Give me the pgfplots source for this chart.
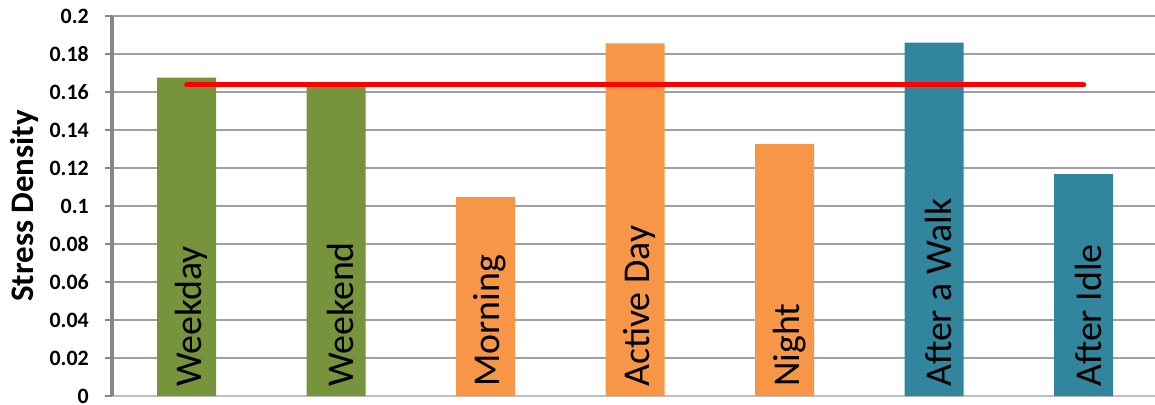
\documentclass[border=0pt]{standalone}
\usepackage{pgfplots}
\pgfplotsset{compat=1.18}
\usepackage{fontspec}
\setmainfont{Carlito}

\definecolor{barGreen}{HTML}{77933C}
\definecolor{barOrange}{HTML}{F79646}
\definecolor{barTeal}{HTML}{31859C}
\definecolor{gridGray}{HTML}{A0A0A0}
\definecolor{axisGray}{HTML}{868686}
\definecolor{baseGray}{HTML}{BFBFBF}

\begin{document}
\begin{tikzpicture}
\useasboundingbox (0,0) rectangle (1155bp,405bp);
\begin{axis}[
  at={(112bp,9bp)}, anchor=south west,
  scale only axis,
  width=1043bp, height=380bp,
  xmin=-0.5, xmax=6.477,
  ymin=0, ymax=0.2,
  xtick=\empty,
  ytick={0,0.02,0.04,0.06,0.08,0.1,0.12,0.14,0.16,0.18,0.2},
  yticklabels={0,0.02,0.04,0.06,0.08,0.1,0.12,0.14,0.16,0.18,0.2},
  yticklabel style={font=\fontsize{22}{22}\selectfont\bfseries, anchor=east, inner sep=0pt, xshift=-16bp},
  axis x line*=bottom, axis y line*=left,
  x axis line style={-, draw=baseGray, line width=2bp},
  y axis line style={-, draw=axisGray, line width=3bp},
  ytick pos=left, tick align=outside, major tick length=7bp,
  ytick style={draw=axisGray, line width=2bp},
  ymajorgrids,
  grid style={draw=gridGray, line width=1.5bp},
  ylabel={Stress Density},
  ylabel style={at={(axis description cs:-0.084,0.5)}, anchor=center,
    font=\fontsize{33}{33}\selectfont\bfseries},
  ybar, bar width=59bp, bar shift=0pt,
  clip=false,
]
% Day type
\addplot[fill=barGreen, draw=none] coordinates {(0,0.1675) (1,0.1625)};
% Time of day
\addplot[fill=barOrange, draw=none] coordinates {(2,0.1047) (3,0.1856) (4,0.1326)};
% Preceding activity
\addplot[fill=barTeal, draw=none] coordinates {(5,0.1860) (6,0.1168)};

% category names set inside the bars
\foreach \i/\name in {0/Weekday,1/Weekend,2/Morning,3/Active Day,4/Night,5/After a Walk,6/After Idle}{
  \edef\temp{\noexpand\node[rotate=90, anchor=west, inner xsep=9bp, inner ysep=0pt,
    font=\noexpand\fontsize{38}{38}\noexpand\selectfont] at (axis cs:\i+0.03,0) {\name};}
  \temp
}

% overall mean
\addplot[sharp plot, draw=red, line width=5bp, line cap=round] coordinates {(0,0.1637) (6,0.1637)};
\end{axis}
\end{tikzpicture}
\end{document}
